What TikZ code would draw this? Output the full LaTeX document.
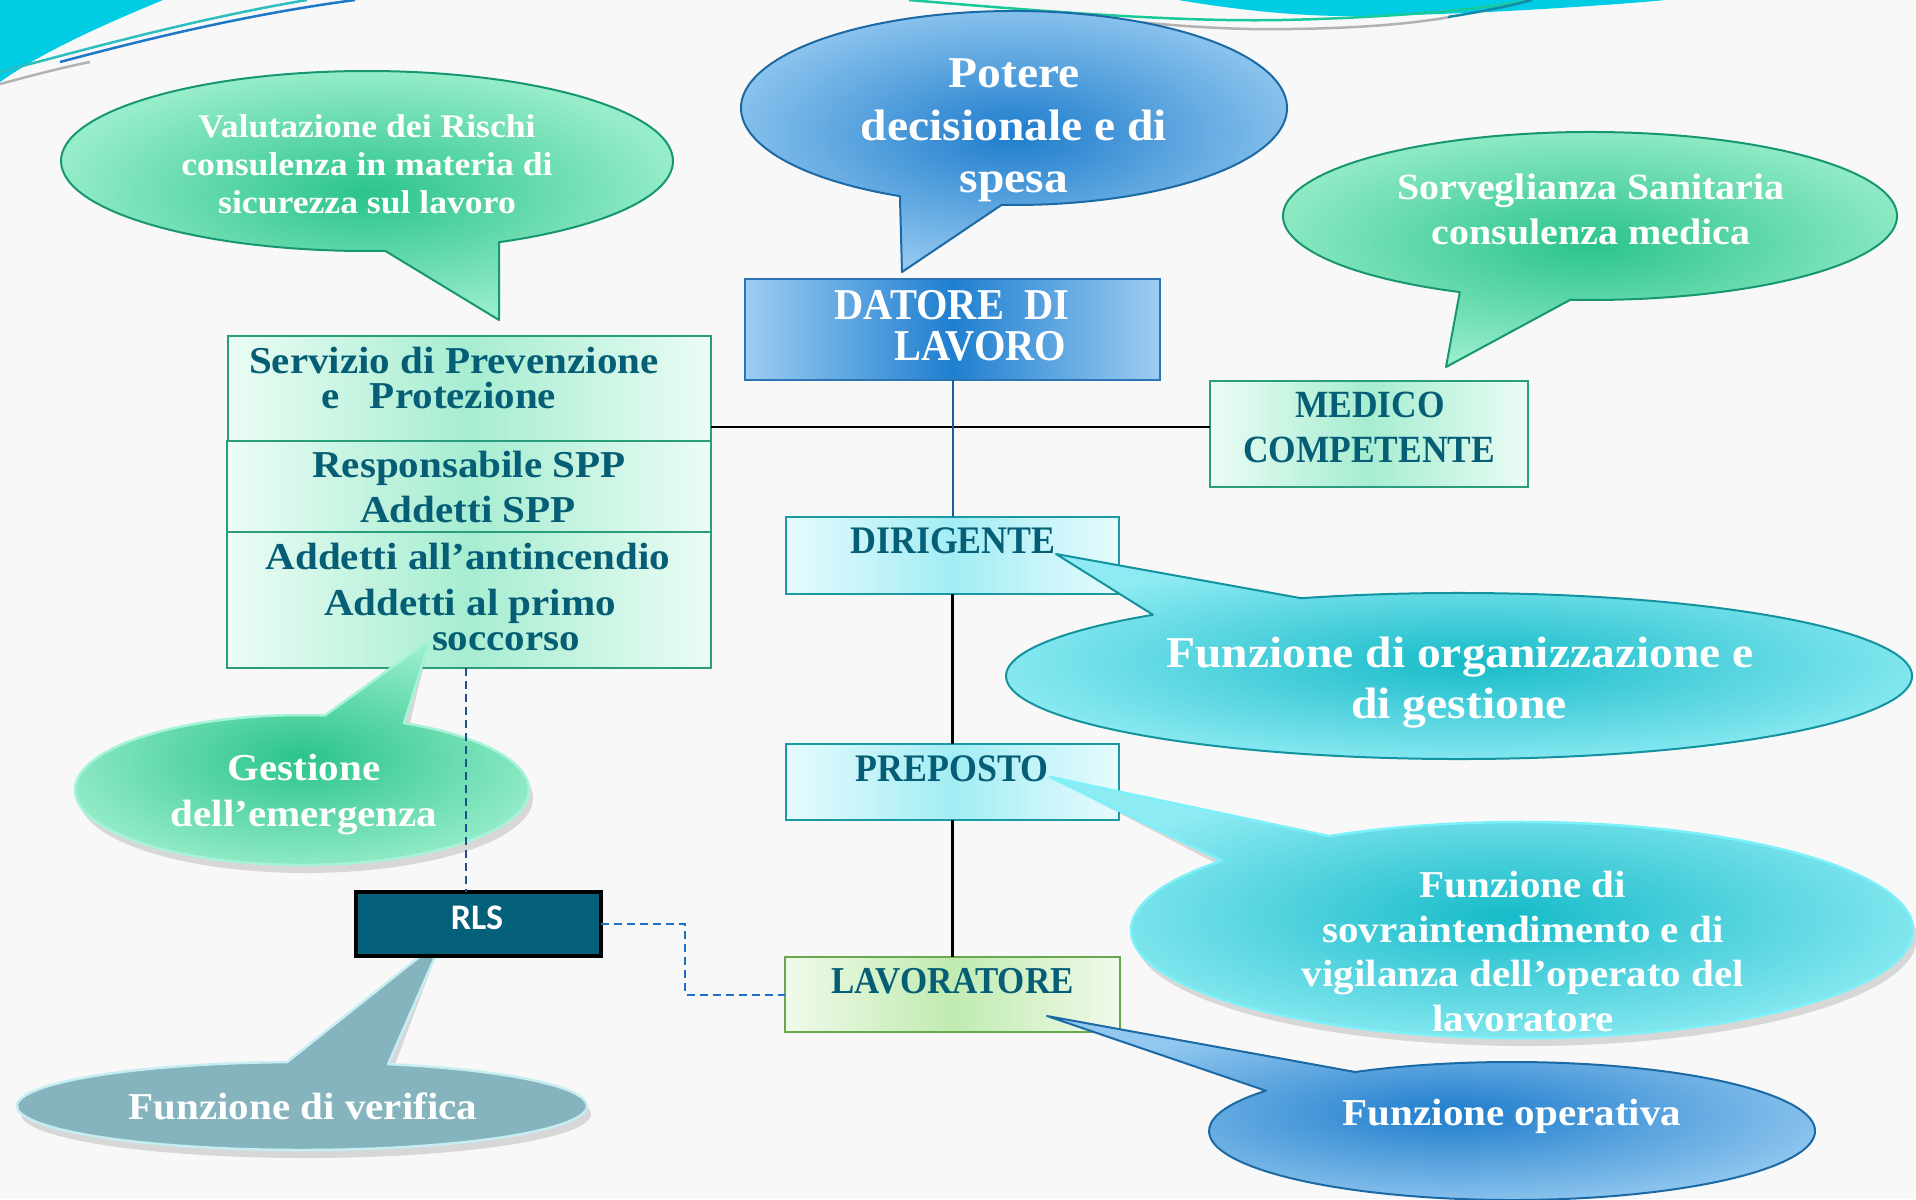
\documentclass[tikz,border=0pt]{standalone}
\usepackage{fontspec}
\newfontfamily\palfont[FakeStretch=1.08]{Liberation Serif}
\newfontfamily\capfont[FakeStretch=0.92]{Liberation Serif}
\newfontfamily\rlsfont{Carlito}
\usetikzlibrary{calc}
\newcommand\myfs[1]{\fontsize{#1}{#1}\selectfont}

\definecolor{bg}{HTML}{F8F8F8}
\definecolor{txtteal}{HTML}{055E75}
\definecolor{blueIn}{HTML}{1F7DCC}
\definecolor{blueOut}{HTML}{92C8F0}
\definecolor{blueLine}{HTML}{1B6AA5}
\definecolor{greenIn}{HTML}{2BC48B}
\definecolor{greenOut}{HTML}{96EDC9}
\definecolor{greenLine}{HTML}{179770}
\definecolor{greenGlow}{HTML}{A6F3DA}
\definecolor{cyanIn}{HTML}{17BBC9}
\definecolor{cyanOut}{HTML}{8EEBF3}
\definecolor{cyanLine}{HTML}{12939F}
\definecolor{cyanGlow}{HTML}{7CF1FA}
\definecolor{grayIn}{HTML}{86B4BE}
\definecolor{grayLine}{HTML}{C6EEF2}
\definecolor{mintEdge}{HTML}{EBFCF4}
\definecolor{mintMid}{HTML}{A6EDD1}
\definecolor{mintLine}{HTML}{2A9E7A}
\definecolor{iceEdge}{HTML}{E6FBFD}
\definecolor{iceMid}{HTML}{A2EDF4}
\definecolor{iceLine}{HTML}{1A9AA5}
\definecolor{limeEdge}{HTML}{F0FAEA}
\definecolor{limeMid}{HTML}{C0EBB0}
\definecolor{limeLine}{HTML}{6AA84F}
\definecolor{datEdge}{HTML}{9DCDF3}
\definecolor{datMid}{HTML}{1F7FCF}
\definecolor{datLine}{HTML}{2B74B5}
\definecolor{rlsFill}{HTML}{04607A}
\definecolor{decoCyan}{HTML}{00CCE3}
\definecolor{decoTeal}{HTML}{2DBFC0}
\definecolor{decoBlue}{HTML}{1E78C8}
\definecolor{decoGreen}{HTML}{19C99A}
\definecolor{decoDark}{HTML}{1589A8}
\definecolor{vline}{HTML}{1F5A9A}
\definecolor{dashA}{HTML}{1E6FC8}
\definecolor{dashB}{HTML}{1F4F8F}

% speech bubble: #1 style, #2 cx, #3 cy, #4 rx, #5 ry, #6 start angle, #7 end angle, #8 tip
\newcommand\bubpath[8]{%
  \path[#1] #8 -- ([shift={(#2,#3)}]#6:#4 and #5)
    arc[start angle=#6, end angle=#7, x radius=#4, y radius=#5] -- cycle;
}

\begin{document}
\begin{tikzpicture}[x=1pt,y=-1pt,
  every node/.style={inner sep=0pt,outer sep=0pt},
  bx/.style={rectangle, line width=2pt},
  bblue/.style={shade, draw=blueLine, line width=2pt, line join=round, inner color=blueIn, outer color=blueOut},
  bgreen/.style={shade, draw=greenLine, line width=2pt, line join=round, inner color=greenIn, outer color=greenOut},
  bgreenglow/.style={shade, draw=greenGlow, line width=2.5pt, line join=round, inner color=greenIn, outer color=greenOut},
  bcyan/.style={shade, draw=cyanLine, line width=2pt, line join=round, inner color=cyanIn, outer color=cyanOut},
  bcyanglow/.style={shade, draw=cyanGlow, line width=2.5pt, line join=round, inner color=cyanIn, outer color=cyanOut},
  bgray/.style={fill=grayIn, draw=grayLine, line width=2.5pt, line join=round},
  bshadow/.style={fill=black, opacity=0.13, shift={(4,8)}},
  wt/.style={anchor=base, text=white, font=\palfont\bfseries\myfs{#1}},
  bt/.style={anchor=base, text=txtteal, font=\palfont\bfseries\myfs{#1}},
  ct/.style={anchor=base, text=txtteal, font=\capfont\bfseries\myfs{#1}},
  solidconn/.style={line width=2.5pt, black},
  dashconn/.style={line width=2pt, dash pattern=on 8pt off 5pt}
]
\path[use as bounding box, fill=bg] (0,0) rectangle (1916,1199);

% decorative swooshes
\fill[decoCyan] (0,0) -- (163,0) .. controls (110,22) and (45,50) .. (0,82) -- cycle;
\draw[line width=2.5pt, decoTeal] (0,72) .. controls (90,48) and (200,18) .. (307,0);
\draw[line width=2.5pt, decoBlue] (60,62) .. controls (150,38) and (250,14) .. (355,0);
\draw[line width=2.5pt, gray!60] (0,84) .. controls (30,76) and (60,68) .. (90,62);
\fill[decoCyan] (1178,0) .. controls (1250,12) and (1310,17) .. (1368,16) .. controls (1480,14) and (1600,6) .. (1666,0) -- cycle;
\draw[line width=2.5pt, decoGreen] (909,0) .. controls (1050,12) and (1180,22) .. (1282,20) .. controls (1380,18) and (1480,10) .. (1529,0);
\draw[line width=2.5pt, gray!60] (1138,22) .. controls (1200,28) and (1250,30) .. (1293,29) .. controls (1360,28) and (1410,24) .. (1450,17);
\draw[line width=2.5pt, decoDark] (1448,17) .. controls (1480,12) and (1510,6) .. (1532,0);

% boxes
\node[bx, draw=datLine, left color=datEdge, right color=datEdge, middle color=datMid,
      minimum width=415pt, minimum height=101pt] (datore) at (952.5,329.5) {};
\node[bx, draw=mintLine, left color=mintEdge, right color=mintEdge, middle color=mintMid,
      minimum width=483pt, minimum height=105pt] (spp1) at (469.5,388.5) {};
\node[bx, draw=mintLine, left color=mintEdge, right color=mintEdge, middle color=mintMid,
      minimum width=484pt, minimum height=91pt] (spp2) at (469,486.5) {};
\node[bx, draw=mintLine, left color=mintEdge, right color=mintEdge, middle color=mintMid,
      minimum width=484pt, minimum height=136pt] (spp3) at (469,600) {};
\node[bx, draw=mintLine, left color=mintEdge, right color=mintEdge, middle color=mintMid,
      minimum width=318pt, minimum height=106pt] (medico) at (1369,434) {};
\node[bx, draw=iceLine, left color=iceEdge, right color=iceEdge, middle color=iceMid,
      minimum width=333pt, minimum height=77pt] (dirigente) at (952.5,555.5) {};
\node[bx, draw=iceLine, left color=iceEdge, right color=iceEdge, middle color=iceMid,
      minimum width=333pt, minimum height=76pt] (preposto) at (952.5,782) {};
\node[bx, draw=limeLine, left color=limeEdge, right color=limeEdge, middle color=limeMid,
      minimum width=335pt, minimum height=75pt] (lavoratore) at (952.5,994.5) {};

% solid connectors
\coordinate (hy) at (0,427);
\draw[line width=2pt, black] (spp1.east |- hy) -- (medico.west |- hy);
\draw[line width=2pt, vline] (datore.south) -- (dirigente.north);
\draw[solidconn] (dirigente.south) -- (preposto.north);
\draw[solidconn] (preposto.south) -- (lavoratore.north);

% tips of the bubbles
\coordinate (tpot) at (902,272);
\coordinate (tval) at (499,320);
\coordinate (tsor) at (1446,367);
\coordinate (torg) at (1056,554);
\coordinate (tges) at (430,640);
\coordinate (tverR) at (438,950);
\coordinate (tverL) at (428,950);
\coordinate (tsov) at (1050,777);
\coordinate (tope) at (1047,1016);

% bubbles
\bubpath{bblue}{1014}{108}{273}{97}{114.7}{452.6}{(tpot)}
\bubpath{bgreen}{367}{161}{306}{90}{86.6}{424.4}{(tval)}
\bubpath{bgreen}{1590}{216}{307}{84}{115.1}{453.7}{(tsor)}
\bubpath{bcyan}{1459}{676}{453}{83}{249.6}{587.5}{(torg)}

\bubpath{bshadow}{302}{790}{227}{75}{296.7}{635.8}{(tges)}
\bubpath{bgreenglow}{302}{790}{227}{75}{296.7}{635.8}{(tges)}

\path[bshadow] (tverR) -- ([shift={(302,1106)}]287.6:285 and 44)
  arc[start angle=287.6, end angle=627.0, x radius=285, y radius=44] -- (tverL) -- cycle;
\path[bgray] (tverR) -- ([shift={(302,1106)}]287.6:285 and 44)
  arc[start angle=287.6, end angle=627.0, x radius=285, y radius=44] -- (tverL) -- cycle;

\bubpath{bshadow}{1522}{930}{391}{108}{240.4}{579.9}{(tsov)}
\bubpath{bcyanglow}{1522}{930}{391}{108}{240.4}{579.9}{(tsov)}
\bubpath{bblue}{1512}{1131}{303}{69}{238.8}{575.7}{(tope)}

% RLS box
\node[bx, draw=black, line width=4pt, fill=rlsFill,
      minimum width=245pt, minimum height=64pt] (rls) at (478.5,924) {};

% dashed connectors
\coordinate (dxr) at (466,0);
\draw[dashconn, dashB] (spp3.south -| dxr) -- (rls.north -| dxr);
\draw[dashconn, dashA] (rls.east) -- ++(84,0) |- (lavoratore.west);

% box texts
\node[ct=44, text=white] (tdat1) at (952,319) {DATORE~\ DI};
\node[ct=44, text=white] (tdat2) at (980.5,360) {LAVORO};
\node[bt=38, anchor=base west] (tspp1) at (249,373) {Servizio di Prevenzione};
\node[bt=38, anchor=base west] (tspp2) at (321,408) {e~~~Protezione};
\node[bt=38] (tspp3) at (469,477) {Responsabile SPP};
\node[bt=38] (tspp4) at (468,522) {Addetti SPP};
\node[bt=38] (tspp5) at (468,569) {Addetti all’antincendio};
\node[bt=38] (tspp6) at (470,615) {Addetti al primo};
\node[bt=38, anchor=base west] (tspp7) at (432,650) {soccorso};
\node[ct=38.5] (tmed1) at (1370,417) {MEDICO};
\node[ct=38.5] (tmed2) at (1369,462) {COMPETENTE};
\node[ct=39] (tdir) at (953,553) {DIRIGENTE};
\node[ct=39] (tpre) at (952,781) {PREPOSTO};
\node[ct=38] (tlav) at (952.5,993) {LAVORATORE};
\node[anchor=base, text=white, font=\rlsfont\bfseries\myfs{36}] (trls) at (477,929) {RLS};

% bubble texts
\node[wt=44] (xpot1) at (1014,88) {Potere};
\node[wt=44] (xpot2) at (1014,140) {decisionale e di};
\node[wt=44] (xpot3) at (1014,192) {spesa};
\node[wt=33] (xval1) at (367,137) {Valutazione dei Rischi};
\node[wt=33] (xval2) at (367,175) {consulenza in materia di};
\node[wt=33] (xval3) at (367,213) {sicurezza sul lavoro};
\node[wt=37] (xsor1) at (1591,199) {Sorveglianza Sanitaria};
\node[wt=37] (xsor2) at (1591,244) {consulenza medica};
\node[wt=44] (xorg1) at (1460,667) {Funzione di organizzazione e};
\node[wt=44] (xorg2) at (1459,718) {di gestione};
\node[wt=38] (xges1) at (304,780) {Gestione};
\node[wt=38] (xges2) at (304,826) {dell’emergenza};
\node[wt=38] (xver) at (303,1119) {Funzione di verifica};
\node[wt=38] (xsov1) at (1523,897) {Funzione di};
\node[wt=38] (xsov2) at (1523,942) {sovraintendimento e di};
\node[wt=38] (xsov3) at (1523,986) {vigilanza dell’operato del};
\node[wt=38] (xsov4) at (1523,1031) {lavoratore};
\node[wt=38] (xope) at (1512,1125) {Funzione operativa};
\end{tikzpicture}
\end{document}
